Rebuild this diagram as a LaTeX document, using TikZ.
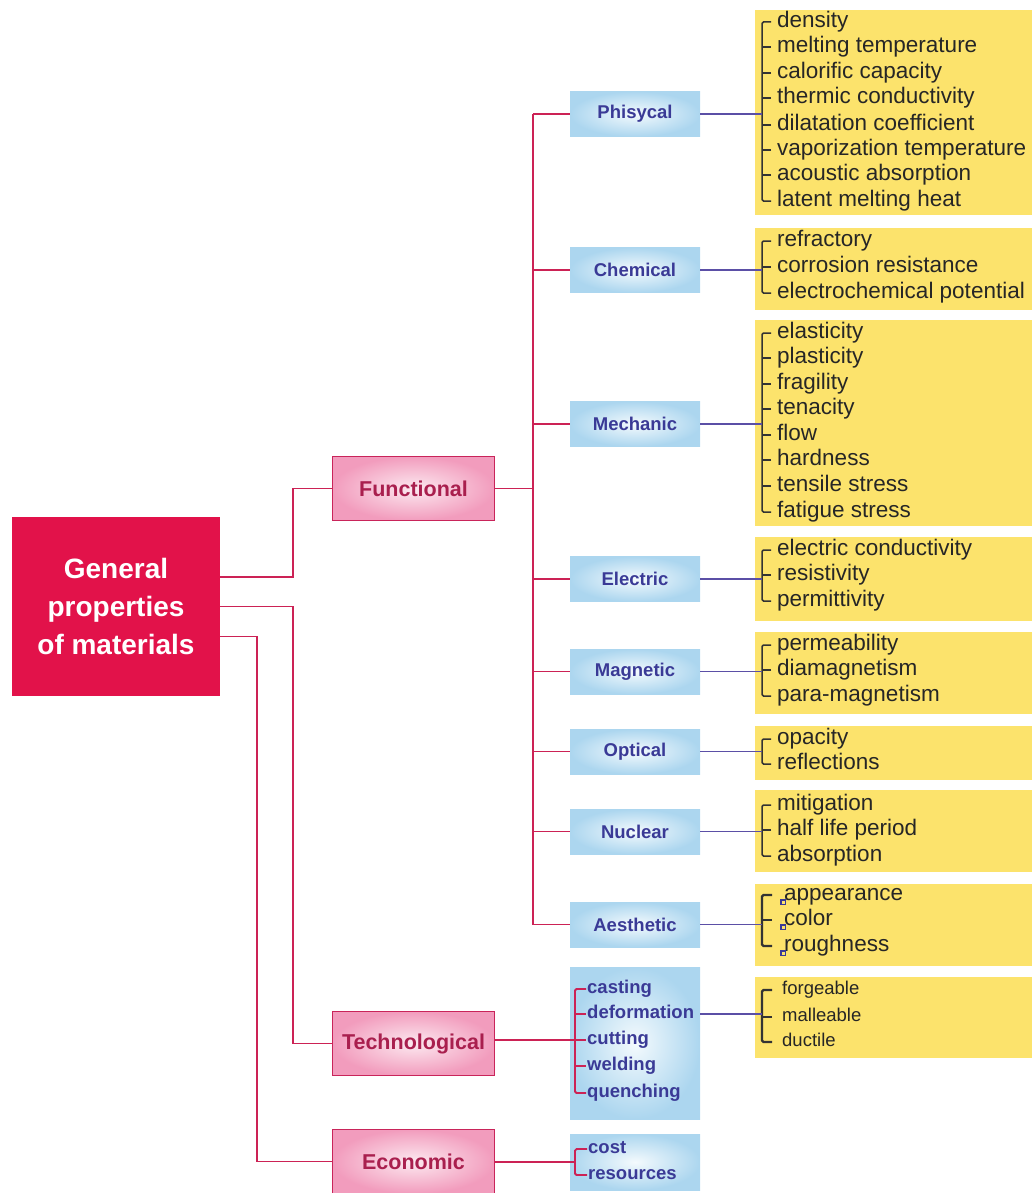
\documentclass[tikz,border=0pt]{standalone}
\usepackage{fontspec}
\setmainfont{Liberation Sans}
\usetikzlibrary{calc}

\definecolor{rootred}{HTML}{E2124A}
\definecolor{catborder}{HTML}{C9245A}
\definecolor{catouter}{HTML}{F29CBD}
\definecolor{catinner}{HTML}{FCE9F0}
\definecolor{cattext}{HTML}{A91F4E}
\definecolor{subouter}{HTML}{ACD6EF}
\definecolor{subinner}{HTML}{F4FAFD}
\definecolor{subtext}{HTML}{3A3A96}
\definecolor{listbg}{HTML}{FCE36C}
\definecolor{redline}{HTML}{CC2255}
\definecolor{blueline}{HTML}{5B4FA6}
\definecolor{inkline}{HTML}{333333}
\definecolor{itemtext}{HTML}{262626}

% list of items placed at x, one per text/y pair
\newcommand\proplist[3]{%
  \foreach \t/\yy [count=\i] in {#3} {\node[itemstyle] (#1\i) at (#2,\yy) {\t};}%
  \coordinate (#1v) at ([xshift=-15pt]#11.west);%
}
% bracket on the left of a list: prefix, last index, middle indices
\newcommand\listbracket[4][brk]{%
  \draw[#1] ([xshift=-6pt]#21.west) -| (#2v |- #2#3.west) -- ([xshift=-6pt]#2#3.west);%
  \foreach \k in {#4} {\draw[#1] ([xshift=-6pt]#2\k.west) -- (#2v |- #2\k.west);}%
}

\begin{document}
\begin{tikzpicture}[x=1pt,y=-1pt,
  rootbox/.style={fill=rootred, text=white, align=center,
    font=\fontsize{28}{38}\selectfont\bfseries,
    minimum width=208pt, minimum height=179pt, inner sep=0pt},
  catbox/.style={draw=catborder, line width=1.8pt, shading=radial,
    inner color=catinner, outer color=catouter, text=cattext,
    font=\fontsize{21.5}{24}\selectfont\bfseries,
    minimum width=162pt, minimum height=64pt, inner sep=0pt},
  subbox/.style={shading=radial, inner color=subinner, outer color=subouter,
    text=subtext, font=\fontsize{18.5}{22}\selectfont\bfseries,
    minimum width=130pt, minimum height=45pt, inner sep=0pt},
  listbox/.style={fill=listbg, minimum width=277pt, inner sep=0pt},
  itemstyle/.style={anchor=west, inner sep=0pt, text=itemtext,
    font=\fontsize{22.5}{25}\selectfont, text height=15pt, text depth=4pt},
  smallitem/.style={itemstyle, font=\fontsize{18.5}{22}\selectfont,
    text height=13pt, text depth=3.5pt},
  boxitem/.style={itemstyle, text=subtext,
    font=\fontsize{18.5}{22}\selectfont\bfseries, text height=13pt, text depth=3.5pt},
  brk/.style={draw=inkline, line width=1.5pt, rounded corners=1.5pt},
  brkbold/.style={draw=inkline, line width=2.2pt, rounded corners=1.5pt},
  redbrk/.style={draw=redline, line width=1.8pt, rounded corners=1.5pt},
  rline/.style={draw=redline, line width=1.8pt},
  bline/.style={draw=blueline, line width=1.8pt},
  tinysquare/.style={draw=subtext, line width=1.3pt}
]
\useasboundingbox (0,0) rectangle (1032,1193);

% ---------- yellow list panels ----------
\node[listbox, minimum height=205pt] (yphys) at (893.5,112.5) {};
\node[listbox, minimum height=82pt]  (ychem) at (893.5,269) {};
\node[listbox, minimum height=206pt] (ymech) at (893.5,423) {};
\node[listbox, minimum height=84pt]  (yelec) at (893.5,579) {};
\node[listbox, minimum height=82pt]  (ymagn) at (893.5,673) {};
\node[listbox, minimum height=54pt]  (yopt)  at (893.5,753) {};
\node[listbox, minimum height=82pt]  (ynucl) at (893.5,831) {};
\node[listbox, minimum height=82pt]  (yaest) at (893.5,925) {};
\node[listbox, minimum height=81pt]  (ytech) at (893.5,1017.5) {};

% ---------- main boxes ----------
\node[rootbox] (root) at (116,606.5) {General\\properties\\of materials};
\node[catbox] (func) at (413.5,488.5) {Functional};
\node[catbox] (tech) at (413.5,1043.5) {Technological};
\node[catbox] (econ) at (413.5,1161.5) {Economic};

\node[subbox] (phys) at (635,114) {Phisycal};
\node[subbox] (chem) at (635,270) {Chemical};
\node[subbox] (mech) at (635,424) {Mechanic};
\node[subbox] (elec) at (635,579) {Electric};
\node[subbox] (magn) at (635,671.5) {Magnetic};
\node[subbox] (opt)  at (635,751.5) {Optical};
\node[subbox] (nucl) at (635,831.5) {Nuclear};
\node[subbox] (aest) at (635,924.5) {Aesthetic};
\node[subbox, minimum height=152pt] (tsub) at (635,1043) {};
\node[subbox, minimum height=56pt]  (esub) at (635,1162) {};

% ---------- property lists ----------
\proplist{ph}{777}{density/22, melting temperature/47, calorific capacity/73,
  thermic conductivity/98, dilatation coefficient/125,
  vaporization temperature/150, acoustic absorption/175, latent melting heat/201}
\proplist{ch}{777}{refractory/241, corrosion resistance/267, electrochemical potential/293}
\proplist{me}{777}{elasticity/333, plasticity/358, fragility/384, tenacity/409,
  flow/435, hardness/460, tensile stress/486, fatigue stress/512}
\proplist{el}{777}{electric conductivity/550, resistivity/575, permittivity/601}
\proplist{ma}{777}{permeability/645, diamagnetism/670, para-magnetism/696}
\proplist{op}{777}{opacity/739, reflections/764}
\proplist{nu}{777}{mitigation/805, half life period/830, absorption/856}
\proplist{ae}{784}{appearance/895, color/920, roughness/946}
\coordinate (aev) at ([xshift=-22pt]ae1.west);

\foreach \t/\yy [count=\i] in {forgeable/990, malleable/1017, ductile/1042}
  {\node[smallitem] (tf\i) at (782,\yy) {\t};}
\coordinate (tfv) at ([xshift=-20pt]tf1.west);

\foreach \t/\yy [count=\i] in {casting/989, deformation/1014, cutting/1040,
  welding/1066, quenching/1093}
  {\node[boxitem] (tp\i) at (587,\yy) {\t};}
\coordinate (tpv) at ([xshift=-12pt]tp1.west);

\foreach \t/\yy [count=\i] in {cost/1149, resources/1175}
  {\node[boxitem] (ec\i) at (588,\yy) {\t};}
\coordinate (ecv) at ([xshift=-13pt]ec1.west);
\coordinate (ecm) at ($(ecv |- ec1.west)!0.5!(ecv |- ec2.west)$);

% ---------- brackets ----------
\listbracket{ph}{8}{2,...,7}
\listbracket{ch}{3}{2}
\listbracket{me}{8}{2,...,7}
\listbracket{el}{3}{2}
\listbracket{ma}{3}{2}
\draw[brk] ([xshift=-6pt]op1.west) -| (opv |- op2.west) -- ([xshift=-6pt]op2.west);
\listbracket{nu}{3}{2}
\draw[brkbold] ([xshift=-12pt]ae1.west) -| (aev |- ae3.west) -- ([xshift=-12pt]ae3.west);
\draw[brkbold] ([xshift=-12pt]ae2.west) -- (aev |- ae2.west);
\foreach \i in {1,2,3}
  \draw[tinysquare] ([xshift=-3pt,yshift=-5pt]ae\i.west) rectangle ++(4.5,4.5);
\draw[brkbold] ([xshift=-10pt]tf1.west) -| (tfv |- tf3.west) -- ([xshift=-10pt]tf3.west);
\draw[brkbold] ([xshift=-10pt]tf2.west) -- (tfv |- tf2.west);
\draw[redbrk] ([xshift=-1pt]tp1.west) -| (tpv |- tp5.west) -- ([xshift=-1pt]tp5.west);
\foreach \k in {2,3,4} \draw[redbrk] ([xshift=-1pt]tp\k.west) -- (tpv |- tp\k.west);
\draw[redbrk] ([xshift=-1pt]ec1.west) -| (ecv |- ec2.west) -- ([xshift=-1pt]ec2.west);

% ---------- connectors ----------
\coordinate (ja) at (293,0);
\coordinate (jb) at (257,0);
\coordinate (jt) at (533,0);
\draw[rline] ([yshift=29.5pt]root.east) -| (ja |- func.west) -- (func.west);
\draw[rline] (root.east) -| (ja |- tech.west) -- (tech.west);
\draw[rline] ([yshift=-30pt]root.east) -| (jb |- econ.west) -- (econ.west);

\draw[rline] (func.east) -- (jt |- func.east);
\draw[rline] (jt |- phys.west) -- (jt |- aest.west);
\foreach \n in {phys,chem,mech,elec,magn,opt,nucl,aest}
  \draw[rline] (jt |- \n.west) -- (\n.west);

\draw[rline] (tech.east |- tp3.west) -- (tpv |- tp3.west);
\draw[rline] (econ.east |- ecm) -- (ecm);

\draw[bline] (phys.east) -- (phv |- phys.east);
\draw[bline] (chem.east) -- (chv |- chem.east);
\draw[bline] (mech.east) -- (mev |- mech.east);
\draw[bline] (elec.east) -- (elv |- elec.east);
\draw[bline] (magn.east) -- (mav |- magn.east);
\draw[bline] (opt.east)  -- (opv |- opt.east);
\draw[bline] (nucl.east) -- (nuv |- nucl.east);
\draw[bline] (aest.east) -- (aev |- aest.east);
\draw[bline] (tsub.east |- tp2.west) -- (tfv |- tp2.west);
\end{tikzpicture}
\end{document}
